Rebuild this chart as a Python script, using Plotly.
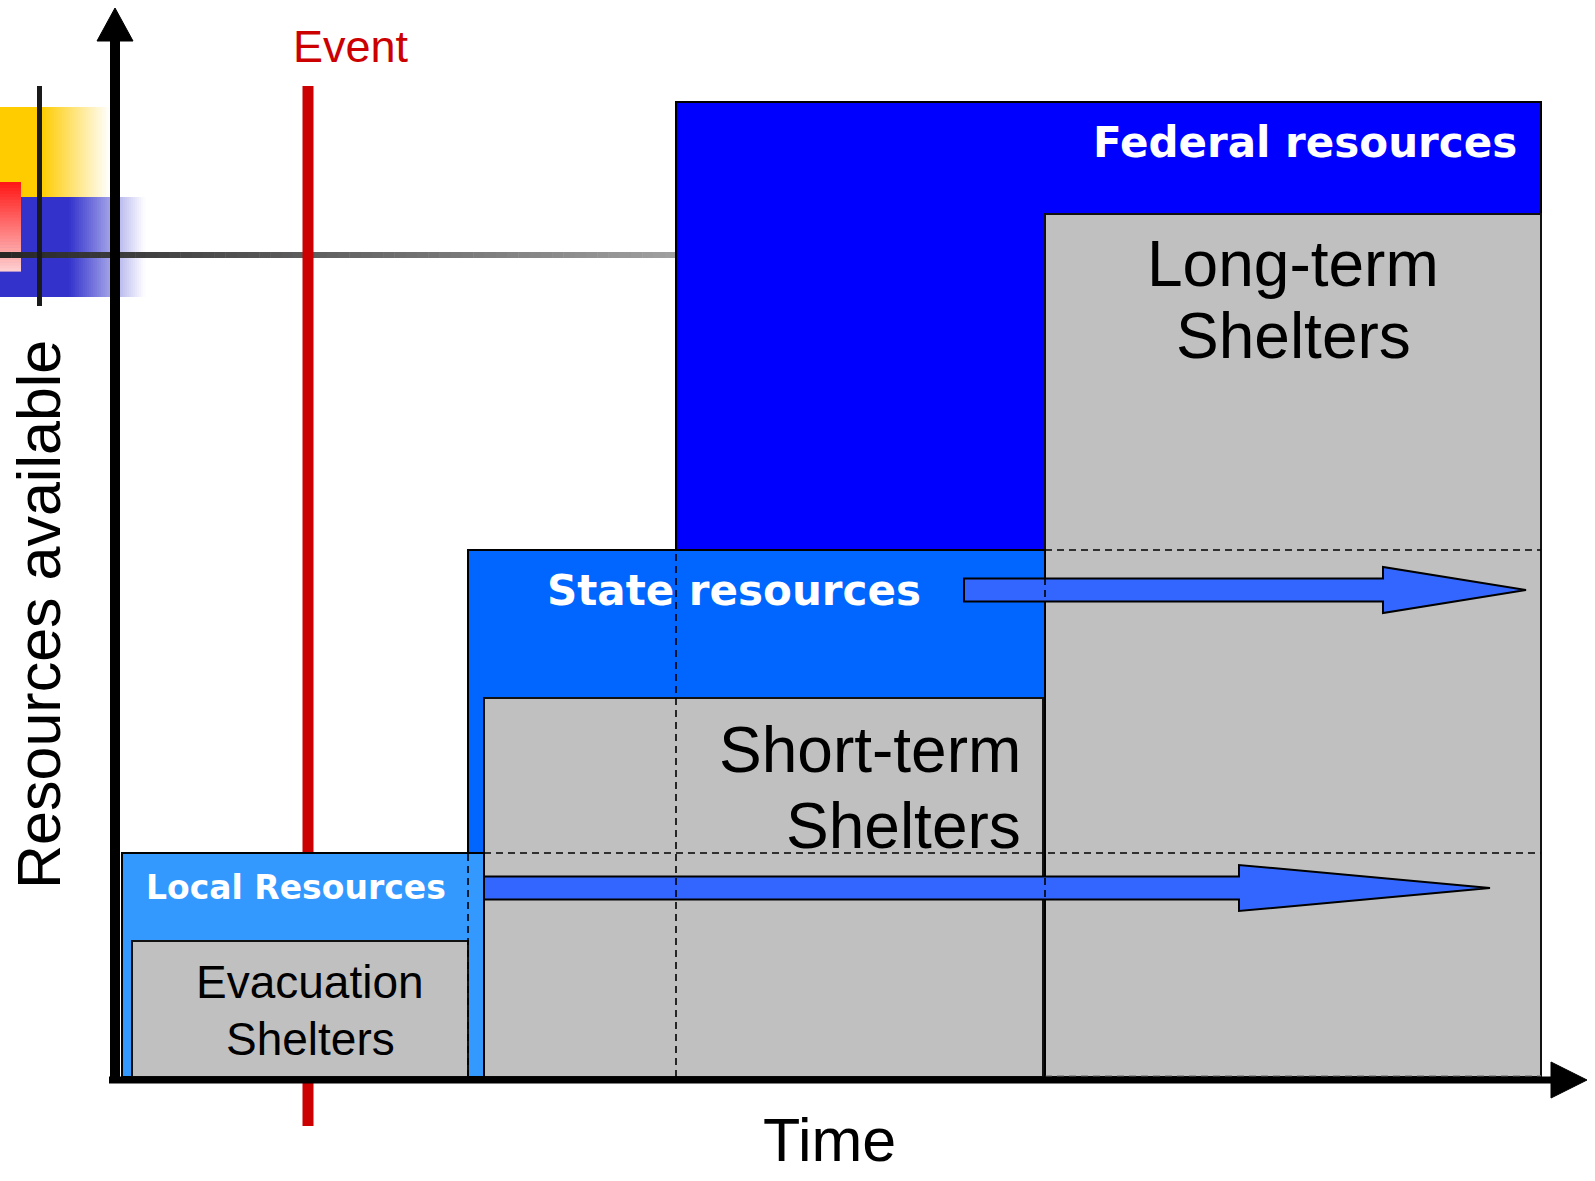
import plotly.graph_objects as go

# ---------------- data (time units along x, resource units along y) ----------------
tier_names = ["Local Resources", "State resources", "Federal resources"]
tier_start = [7, 353, 561]
tier_end = [369, 930, 1426]
tier_level = [224, 527, 975]

shelter_lines = [["Evacuation", "Shelters"], ["Short-term", "Shelters"], ["Long-term", "Shelters"]]
shelter_start = [17, 369, 930]
shelter_end = [353, 928, 1426]
shelter_level = [136, 379, 863]

event_name = "Event"
event_time = 193

carry_from = [369, 849]
carry_to = [1375, 1411]
carry_level = [189, 487]

x_title = "Time"
y_title = "Resources available"

# ---------------- styles ----------------
tier_colors = ["#3399FF", "#0066FF", "#0000FF"]
tier_font_size = [33, 42, 42]
tier_label_anchor = ["center", "center", "right"]
tier_label_dx = [174, 266, -22]
tier_label_dy = [-34, -40, -40]

shelter_color = "#C0C0C0"
shelter_font_size = [46, 64, 64]
shelter_label_anchor = ["center", "right", "center"]
shelter_label_dx = [178, -20, 248]
shelter_line_dy = [[-41, -98], [-52, -128], [-50, -122]]

arrow_color = "#3366FF"
arrow_head_len = [251, 143]
SHAFT_H = 11.5
HEAD_H = 23

BLACK_FONT = "Liberation Sans, Arial, sans-serif"
BOLD_FONT = "DejaVu Sans, Verdana, sans-serif"

W, H = 1595, 1181
X0PX, Y0PX = 115, 1077  # page-pixel position of the origin


def px_to_t(px):
    return px - X0PX


def py_to_r(py):
    return Y0PX - py


shapes = []
annotations = []


def hexmix(c0, c1, f):
    a = [int(c0[i:i + 2], 16) for i in (1, 3, 5)]
    b = [int(c1[i:i + 2], 16) for i in (1, 3, 5)]
    m = [round(a[k] + (b[k] - a[k]) * f) for k in range(3)]
    return "#%02X%02X%02X" % tuple(m)


def grad_rect_h(px0, px1, py0, py1, c0, c1, n):
    step = (px1 - px0) / n
    for i in range(n):
        shapes.append(dict(type="rect", xref="x", yref="y",
                           x0=px_to_t(px0 + i * step), x1=px_to_t(px0 + (i + 1) * step + 0.6),
                           y0=py_to_r(py1), y1=py_to_r(py0),
                           fillcolor=hexmix(c0, c1, (i + 0.5) / n), line=dict(width=0)))


def grad_rect_v(px0, px1, py0, py1, c0, c1, n):
    step = (py1 - py0) / n
    for i in range(n):
        shapes.append(dict(type="rect", xref="x", yref="y",
                           x0=px_to_t(px0), x1=px_to_t(px1),
                           y0=py_to_r(py0 + (i + 1) * step + 0.6), y1=py_to_r(py0 + i * step),
                           fillcolor=hexmix(c0, c1, (i + 0.5) / n), line=dict(width=0)))


# ---------------- slide decoration (top-left corner) ----------------
shapes.append(dict(type="rect", xref="x", yref="y", x0=px_to_t(0), x1=px_to_t(42),
                   y0=py_to_r(197), y1=py_to_r(107), fillcolor="#FFCC00", line=dict(width=0)))
grad_rect_h(42, 110, 107, 197, "#FFCC00", "#FFFFFF", 34)
shapes.append(dict(type="rect", xref="x", yref="y", x0=px_to_t(0), x1=px_to_t(69),
                   y0=py_to_r(297), y1=py_to_r(197), fillcolor="#3333CC", line=dict(width=0)))
grad_rect_h(69, 145, 197, 297, "#3333CC", "#FFFFFF", 38)
grad_rect_v(0, 21, 182, 271, "#FF1515", "#FFD0D0", 30)
# gray horizontal rule
grad_n = 60
for i in range(grad_n):
    a = 676 * i / grad_n
    b = 676 * (i + 1) / grad_n
    shapes.append(dict(type="line", xref="x", yref="y", x0=px_to_t(a), x1=px_to_t(b + 0.5),
                       y0=py_to_r(255), y1=py_to_r(255),
                       line=dict(color=hexmix("#262626", "#A0A0A0", (i + 0.5) / grad_n), width=6)))
shapes.append(dict(type="line", xref="x", yref="y", x0=px_to_t(39.5), x1=px_to_t(39.5),
                   y0=py_to_r(306), y1=py_to_r(86), line=dict(color="#1A1A1A", width=5)))

# ---------------- event line (behind the boxes) ----------------
shapes.append(dict(type="line", xref="x", yref="y", x0=event_time, x1=event_time,
                   y0=py_to_r(1126), y1=py_to_r(86), line=dict(color="#CC0000", width=11)))

# ---------------- tier boxes and shelter boxes ----------------
order = [(2, "tier"), (2, "shelter"), (1, "tier"), (1, "shelter"), (0, "tier"), (0, "shelter")]
for idx, kind in order:
    if kind == "tier":
        shapes.append(dict(type="rect", xref="x", yref="y", x0=tier_start[idx], x1=tier_end[idx],
                           y0=0, y1=tier_level[idx], fillcolor=tier_colors[idx],
                           line=dict(color="#000000", width=2)))
    else:
        shapes.append(dict(type="rect", xref="x", yref="y", x0=shelter_start[idx], x1=shelter_end[idx],
                           y0=0, y1=shelter_level[idx], fillcolor=shelter_color,
                           line=dict(color="#111111", width=2)))

# dashed guides: tier levels carried forward in time
DASH = "7px,5px"
shapes.append(dict(type="line", xref="x", yref="y", x0=shelter_start[1], x1=tier_end[2],
                   y0=tier_level[0], y1=tier_level[0], line=dict(color="#000000", width=1.6, dash=DASH)))
shapes.append(dict(type="line", xref="x", yref="y", x0=shelter_start[2], x1=tier_end[2],
                   y0=tier_level[1], y1=tier_level[1], line=dict(color="#000000", width=1.6, dash=DASH)))
shapes.append(dict(type="line", xref="x", yref="y", x0=shelter_start[2], x1=tier_end[2],
                   y0=1, y1=1, line=dict(color="#808080", width=1.5, dash=DASH)))

# carry-forward arrows
for k in range(len(carry_from)):
    a, b, c, L = carry_from[k], carry_to[k], carry_level[k], arrow_head_len[k]
    path = (f"M {a},{c - SHAFT_H} L {b - L},{c - SHAFT_H} L {b - L},{c - HEAD_H} L {b},{c} "
            f"L {b - L},{c + HEAD_H} L {b - L},{c + SHAFT_H} L {a},{c + SHAFT_H} Z")
    shapes.append(dict(type="path", xref="x", yref="y", path=path, fillcolor=arrow_color,
                       line=dict(color="#000000", width=2)))

# dashed verticals at the start of each higher tier
shapes.append(dict(type="line", xref="x", yref="y", x0=tier_start[1], x1=tier_start[1],
                   y0=0, y1=tier_level[0], line=dict(color="#000000", width=1.6, dash=DASH)))
shapes.append(dict(type="line", xref="x", yref="y", x0=tier_start[2], x1=tier_start[2],
                   y0=0, y1=tier_level[1], line=dict(color="#000000", width=1.6, dash=DASH)))
shapes.append(dict(type="line", xref="x", yref="y", x0=shelter_start[2], x1=shelter_start[2],
                   y0=0, y1=tier_level[1], line=dict(color="#000000", width=1.6, dash=DASH)))

# ---------------- axes with arrowheads ----------------
shapes.append(dict(type="line", xref="x", yref="y", x0=0, x1=0, y0=-6, y1=py_to_r(41),
                   line=dict(color="#000000", width=10)))
shapes.append(dict(type="path", xref="x", yref="y",
                   path=f"M -18,{py_to_r(41)} L 0,{py_to_r(8)} L 18,{py_to_r(41)} Z",
                   fillcolor="#000000", line=dict(color="#000000", width=1)))
shapes.append(dict(type="line", xref="x", yref="y", x0=-6, x1=px_to_t(1551), y0=-3, y1=-3,
                   line=dict(color="#000000", width=7)))
shapes.append(dict(type="path", xref="x", yref="y",
                   path=f"M {px_to_t(1551)},-21 L {px_to_t(1587)},-3 L {px_to_t(1551)},15 Z",
                   fillcolor="#000000", line=dict(color="#000000", width=1)))

# ---------------- labels ----------------
for i, name in enumerate(tier_names):
    x = (tier_start[i] if tier_label_anchor[i] != "right" else tier_end[i]) + tier_label_dx[i]
    annotations.append(dict(x=x, y=tier_level[i] + tier_label_dy[i], xref="x", yref="y",
                            text=f"<b>{name}</b>", showarrow=False, xanchor=tier_label_anchor[i],
                            yanchor="middle",
                            font=dict(family=BOLD_FONT, size=tier_font_size[i], color="#FFFFFF")))

for i, lines in enumerate(shelter_lines):
    x = (shelter_start[i] if shelter_label_anchor[i] != "right" else shelter_end[i]) + shelter_label_dx[i]
    for j, line in enumerate(lines):
        annotations.append(dict(x=x, y=shelter_level[i] + shelter_line_dy[i][j], xref="x", yref="y",
                                text=line, showarrow=False, xanchor=shelter_label_anchor[i],
                                yanchor="middle",
                                font=dict(family=BLACK_FONT, size=shelter_font_size[i], color="#000000")))

annotations.append(dict(x=event_time + 43, y=py_to_r(46), xref="x", yref="y", text=event_name,
                        showarrow=False, xanchor="center", yanchor="middle",
                        font=dict(family=BLACK_FONT, size=45, color="#CC0000")))
annotations.append(dict(x=px_to_t(829), y=py_to_r(1140), xref="x", yref="y", text=x_title,
                        showarrow=False, xanchor="center", yanchor="middle",
                        font=dict(family=BLACK_FONT, size=61, color="#000000")))
annotations.append(dict(x=px_to_t(39), y=py_to_r(615), xref="x", yref="y", text=y_title,
                        showarrow=False, xanchor="center", yanchor="middle", textangle=-90,
                        font=dict(family=BLACK_FONT, size=61, color="#000000")))

x_range = [px_to_t(0), px_to_t(W)]
y_range = [py_to_r(H), py_to_r(0)]

fig = go.Figure()
fig.add_trace(go.Scatter(x=x_range, y=y_range, mode="markers",
                         marker=dict(opacity=0), hoverinfo="skip", showlegend=False))
fig.update_layout(
    width=W, height=H, autosize=False,
    margin=dict(l=0, r=0, t=0, b=0, pad=0),
    paper_bgcolor="#FFFFFF", plot_bgcolor="#FFFFFF",
    xaxis=dict(range=x_range, visible=False, fixedrange=True),
    yaxis=dict(range=y_range, visible=False, fixedrange=True),
    shapes=shapes, annotations=annotations, showlegend=False,
)
# remove the page's default body margin so the figure fills the window exactly
fig.write_html("out.html", config={"displayModeBar": False},
               post_script="document.body.style.margin='0';document.body.style.overflow='hidden';")
